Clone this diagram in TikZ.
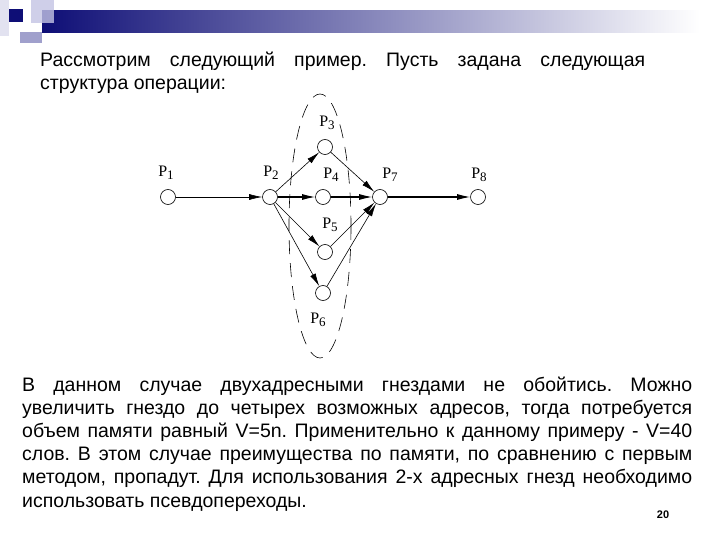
\documentclass[tikz,border=0pt]{standalone}
\usepackage{fontspec}
\setmainfont{Liberation Sans}
\newfontfamily\lserif{Liberation Serif}
\usetikzlibrary{arrows.meta,positioning}
\definecolor{slidenavy}{RGB}{14,14,118}
\definecolor{slidemid}{RGB}{150,150,186}
\definecolor{slidelav}{RGB}{196,196,228}
\definecolor{slidegrey}{RGB}{160,160,204}
\definecolor{slidepale}{RGB}{226,226,240}
\newcommand\pn[1]{P\raisebox{-3.5pt}{\fontsize{13}{13}\selectfont #1}}
\frenchspacing

\begin{document}
\begin{tikzpicture}[x=1pt,y=-1pt,
  vertex/.style={circle,draw,line width=0.6pt,minimum size=15pt,inner sep=0pt,fill=white},
  arc/.style={-{Latex[length=13pt,width=6pt]},line width=0.6pt},
  heavy/.style={arc,line width=1.1pt},
  lbl/.style={inner sep=0pt,font=\lserif\fontsize{16}{16}\selectfont},
  txt/.style={anchor=base west,inner sep=0pt,font=\fontsize{19.5}{19.5}\selectfont}]
\useasboundingbox (0,0) rectangle (720,540);
\fill[white] (0,0) rectangle (720,540);
% decoration of the slide
\fill[slidepale] (0,0) rectangle (9,36);
\shade[left color=slidenavy,middle color=slidemid,right color=white] (42,11) rectangle (700,33);
\fill[slidelav,opacity=0.8] (31,0) rectangle (54,23);
\fill[slidegrey] (20,32) rectangle (42,43);
\fill[slidenavy] (9,9) rectangle (23,22);

% text above
\node[txt] (l1) at (40,66.5) {\makebox[605pt][s]{Рассмотрим следующий пример. Пусть задана следующая}};
\node[txt] (l2) at (40,90) {структура операции:};

% the graph
\draw[dashed,dash pattern=on 14pt off 9pt,line width=0.6pt] (320,226) ellipse [x radius=31,y radius=132];
\node[vertex] (p1) at (168,197) {};
\node[vertex] (p2) at (270,197) {};
\node[vertex] (p3) at (325,147) {};
\node[vertex] (p4) at (323,197) {};
\node[vertex] (p5) at (325,252) {};
\node[vertex] (p6) at (323,293) {};
\node[vertex] (p7) at (380,197) {};
\node[vertex] (p8) at (478,197) {};
\draw[arc] (p1) -- (p2);
\draw[arc] (p2) -- (p3);
\draw[heavy] (p2) -- (p4);
\draw[arc] (p2) -- (p5);
\draw[arc] (p2) -- (p6);
\draw[arc] (p3) -- (p7);
\draw[heavy] (p4) -- (p7);
\draw[arc] (p5) -- (p7);
\draw[arc] (p6) -- (p7);
\draw[heavy] (p7) -- (p8);
\node[lbl] (t1) at (166,173) {\pn{1}};
\node[lbl] (t2) at (271,173) {\pn{2}};
\node[lbl] (t3) at (327,123) {\pn{3}};
\node[lbl] (t4) at (331,175) {\pn{4}};
\node[lbl] (t5) at (330,225) {\pn{5}};
\node[lbl] (t6) at (318,320) {\pn{6}};
\node[lbl] (t7) at (390,175) {\pn{7}};
\node[lbl] (t8) at (479,175) {\pn{8}};

% text below
\node[txt] (m1) at (22,391) {\makebox[670pt][s]{В данном случае двухадресными гнездами не обойтись. Можно}};
\node[txt] (m2) at (22,414.2) {\makebox[670pt][s]{увеличить гнездо до четырех возможных адресов, тогда потребуется}};
\node[txt] (m3) at (22,437.4) {\makebox[670pt][s]{объем памяти равный V=5n. Применительно к данному примеру - V=40}};
\node[txt] (m4) at (22,460.6) {\makebox[670pt][s]{слов. В этом случае преимущества по памяти, по сравнению с первым}};
\node[txt] (m5) at (22,483.8) {\makebox[670pt][s]{методом, пропадут. Для использования 2-х адресных гнезд необходимо}};
\node[txt] (m6) at (22,507) {использовать псевдопереходы.};
\node[font=\bfseries\fontsize{11}{11}\selectfont] (pg) at (663,515) {20};
\end{tikzpicture}
\end{document}
